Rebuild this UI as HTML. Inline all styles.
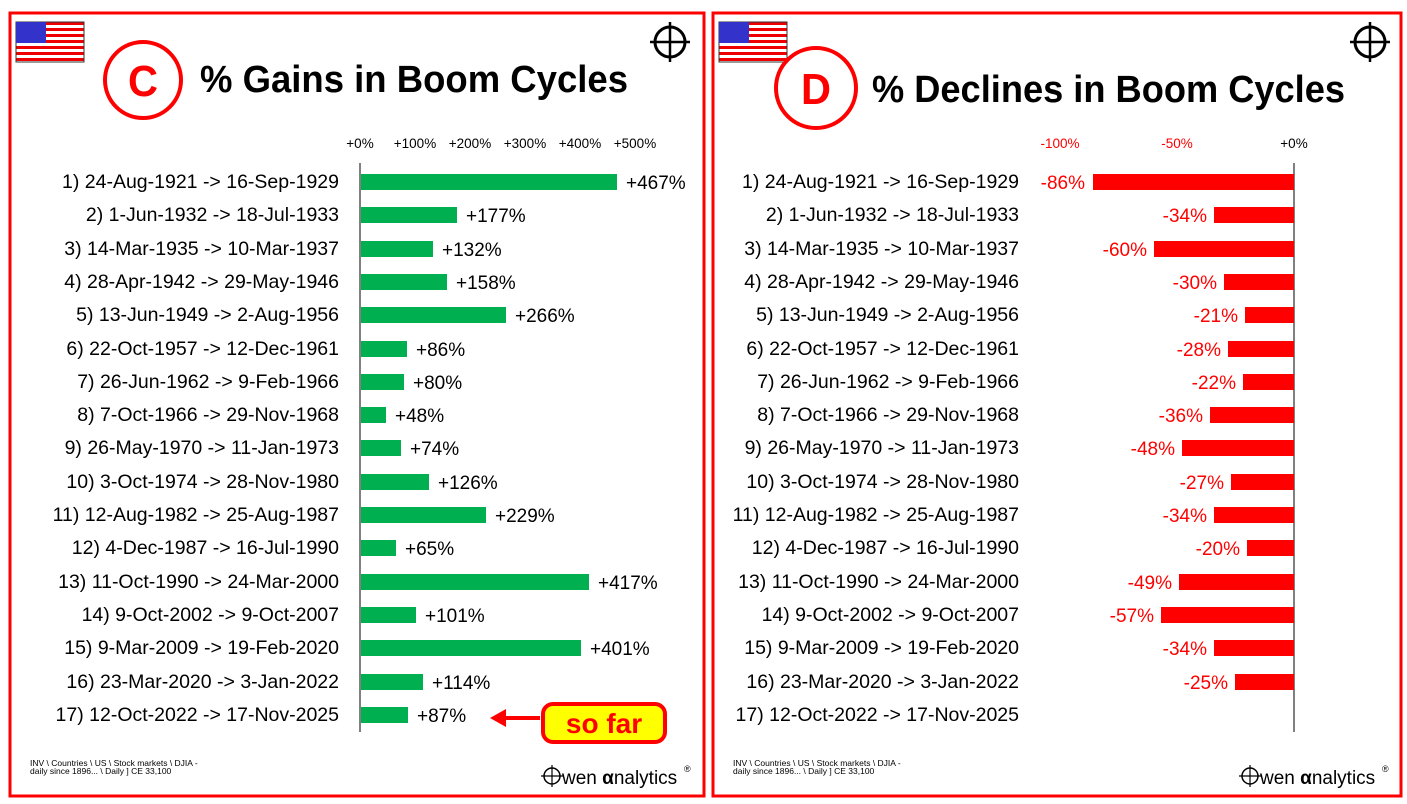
<!DOCTYPE html>
<html><head><meta charset="utf-8"><style>
html,body{margin:0;padding:0;background:#fff;}
svg{display:block;font-family:"Liberation Sans",Arial,sans-serif;}
.l{font-size:19.5px;fill:#000;text-anchor:end;}
.v{font-size:19px;fill:#000;}
.r{font-size:19px;fill:#f00;text-anchor:end;}
.t{font-size:13.5px;fill:#000;text-anchor:middle;}
.tr{font-size:13.5px;fill:#f00;text-anchor:middle;}
</style></head><body>
<svg width="1407" height="804" viewBox="0 0 1407 804">
<defs>
<pattern id="st" width="6" height="6" patternUnits="userSpaceOnUse"><rect width="6" height="3" fill="#e00"/><rect y="3" width="6" height="3" fill="#fff"/></pattern>
<g id="flag"><rect width="68" height="40" fill="url(#st)" stroke="#333" stroke-width="1"/><rect width="30" height="21" fill="#33c"/></g>
<g id="ch"><circle r="15" fill="none" stroke="#000" stroke-width="3"/><line x1="-20" y1="0" x2="20" y2="0" stroke="#000" stroke-width="2.5"/><line x1="0" y1="-20" x2="0" y2="20" stroke="#000" stroke-width="2.5"/></g>
</defs>
<rect x="10" y="13" width="694" height="783" fill="none" stroke="#f00" stroke-width="3"/>
<rect x="713" y="13" width="688" height="783" fill="none" stroke="#f00" stroke-width="3"/>
<use href="#flag" x="16" y="22"/><use href="#flag" x="719" y="22"/>
<use href="#ch" x="670" y="42"/><use href="#ch" x="1370" y="42"/>
<circle cx="143" cy="80" r="38" fill="#fff" stroke="#f00" stroke-width="4"/>
<text x="143" y="96" font-size="44" font-weight="bold" fill="#f00" text-anchor="middle" textLength="30" lengthAdjust="spacingAndGlyphs">C</text>
<text x="200" y="92" font-size="38" font-weight="bold" textLength="428" lengthAdjust="spacingAndGlyphs">% Gains in Boom Cycles</text>
<circle cx="816" cy="88" r="40" fill="#fff" stroke="#f00" stroke-width="4"/>
<text x="816" y="104" font-size="44" font-weight="bold" fill="#f00" text-anchor="middle" textLength="30" lengthAdjust="spacingAndGlyphs">D</text>
<text x="872" y="102" font-size="38" font-weight="bold" textLength="473" lengthAdjust="spacingAndGlyphs">% Declines in Boom Cycles</text>

<g class="t"><text x="360" y="148">+0%</text><text x="415" y="148">+100%</text><text x="470" y="148">+200%</text><text x="525" y="148">+300%</text><text x="580" y="148">+400%</text><text x="635" y="148">+500%</text></g>
<g class="tr"><text x="1060" y="148">-100%</text><text x="1177" y="148">-50%</text><text x="1294" y="148" style="fill:#000">+0%</text></g>

<line x1="360" y1="163" x2="360" y2="732" stroke="#000" stroke-width="1"/>
<line x1="1294" y1="163" x2="1294" y2="732" stroke="#000" stroke-width="1"/>

<g class="l">
<text x="339" y="188">1) 24-Aug-1921 -&gt; 16-Sep-1929</text>
<text x="339" y="221">2) 1-Jun-1932 -&gt; 18-Jul-1933</text>
<text x="339" y="255">3) 14-Mar-1935 -&gt; 10-Mar-1937</text>
<text x="339" y="288">4) 28-Apr-1942 -&gt; 29-May-1946</text>
<text x="339" y="321">5) 13-Jun-1949 -&gt; 2-Aug-1956</text>
<text x="339" y="355">6) 22-Oct-1957 -&gt; 12-Dec-1961</text>
<text x="339" y="388">7) 26-Jun-1962 -&gt; 9-Feb-1966</text>
<text x="339" y="421">8) 7-Oct-1966 -&gt; 29-Nov-1968</text>
<text x="339" y="454">9) 26-May-1970 -&gt; 11-Jan-1973</text>
<text x="339" y="488">10) 3-Oct-1974 -&gt; 28-Nov-1980</text>
<text x="339" y="521">11) 12-Aug-1982 -&gt; 25-Aug-1987</text>
<text x="339" y="554">12) 4-Dec-1987 -&gt; 16-Jul-1990</text>
<text x="339" y="588">13) 11-Oct-1990 -&gt; 24-Mar-2000</text>
<text x="339" y="621">14) 9-Oct-2002 -&gt; 9-Oct-2007</text>
<text x="339" y="654">15) 9-Mar-2009 -&gt; 19-Feb-2020</text>
<text x="339" y="688">16) 23-Mar-2020 -&gt; 3-Jan-2022</text>
<text x="339" y="721">17) 12-Oct-2022 -&gt; 17-Nov-2025</text>
</g>
<g class="l">
<text x="1019" y="188">1) 24-Aug-1921 -&gt; 16-Sep-1929</text>
<text x="1019" y="221">2) 1-Jun-1932 -&gt; 18-Jul-1933</text>
<text x="1019" y="255">3) 14-Mar-1935 -&gt; 10-Mar-1937</text>
<text x="1019" y="288">4) 28-Apr-1942 -&gt; 29-May-1946</text>
<text x="1019" y="321">5) 13-Jun-1949 -&gt; 2-Aug-1956</text>
<text x="1019" y="355">6) 22-Oct-1957 -&gt; 12-Dec-1961</text>
<text x="1019" y="388">7) 26-Jun-1962 -&gt; 9-Feb-1966</text>
<text x="1019" y="421">8) 7-Oct-1966 -&gt; 29-Nov-1968</text>
<text x="1019" y="454">9) 26-May-1970 -&gt; 11-Jan-1973</text>
<text x="1019" y="488">10) 3-Oct-1974 -&gt; 28-Nov-1980</text>
<text x="1019" y="521">11) 12-Aug-1982 -&gt; 25-Aug-1987</text>
<text x="1019" y="554">12) 4-Dec-1987 -&gt; 16-Jul-1990</text>
<text x="1019" y="588">13) 11-Oct-1990 -&gt; 24-Mar-2000</text>
<text x="1019" y="621">14) 9-Oct-2002 -&gt; 9-Oct-2007</text>
<text x="1019" y="654">15) 9-Mar-2009 -&gt; 19-Feb-2020</text>
<text x="1019" y="688">16) 23-Mar-2020 -&gt; 3-Jan-2022</text>
<text x="1019" y="721">17) 12-Oct-2022 -&gt; 17-Nov-2025</text>
</g>

<g fill="#00b050">
<rect x="361" y="174" width="256" height="16"/>
<rect x="361" y="207" width="96" height="16"/>
<rect x="361" y="241" width="72" height="16"/>
<rect x="361" y="274" width="86" height="16"/>
<rect x="361" y="307" width="145" height="16"/>
<rect x="361" y="341" width="46" height="16"/>
<rect x="361" y="374" width="43" height="16"/>
<rect x="361" y="407" width="25" height="16"/>
<rect x="361" y="440" width="40" height="16"/>
<rect x="361" y="474" width="68" height="16"/>
<rect x="361" y="507" width="125" height="16"/>
<rect x="361" y="540" width="35" height="16"/>
<rect x="361" y="574" width="228" height="16"/>
<rect x="361" y="607" width="55" height="16"/>
<rect x="361" y="640" width="220" height="16"/>
<rect x="361" y="674" width="62" height="16"/>
<rect x="361" y="707" width="47" height="16"/>
</g>
<g class="v">
<text x="626" y="189">+467%</text>
<text x="466" y="222">+177%</text>
<text x="442" y="256">+132%</text>
<text x="456" y="289">+158%</text>
<text x="515" y="322">+266%</text>
<text x="416" y="356">+86%</text>
<text x="413" y="389">+80%</text>
<text x="395" y="422">+48%</text>
<text x="410" y="455">+74%</text>
<text x="438" y="489">+126%</text>
<text x="495" y="522">+229%</text>
<text x="405" y="555">+65%</text>
<text x="598" y="589">+417%</text>
<text x="425" y="622">+101%</text>
<text x="590" y="655">+401%</text>
<text x="432" y="689">+114%</text>
<text x="417" y="722">+87%</text>
</g>

<g fill="#f00">
<rect x="1093" y="174" width="201" height="16"/>
<rect x="1214" y="207" width="80" height="16"/>
<rect x="1154" y="241" width="140" height="16"/>
<rect x="1224" y="274" width="70" height="16"/>
<rect x="1245" y="307" width="49" height="16"/>
<rect x="1228" y="341" width="66" height="16"/>
<rect x="1243" y="374" width="51" height="16"/>
<rect x="1210" y="407" width="84" height="16"/>
<rect x="1182" y="440" width="112" height="16"/>
<rect x="1231" y="474" width="63" height="16"/>
<rect x="1214" y="507" width="80" height="16"/>
<rect x="1247" y="540" width="47" height="16"/>
<rect x="1179" y="574" width="115" height="16"/>
<rect x="1161" y="607" width="133" height="16"/>
<rect x="1214" y="640" width="80" height="16"/>
<rect x="1235" y="674" width="59" height="16"/>
</g>
<g class="r">
<text x="1085" y="189">-86%</text>
<text x="1207" y="222">-34%</text>
<text x="1147" y="256">-60%</text>
<text x="1217" y="289">-30%</text>
<text x="1238" y="322">-21%</text>
<text x="1221" y="356">-28%</text>
<text x="1236" y="389">-22%</text>
<text x="1203" y="422">-36%</text>
<text x="1175" y="455">-48%</text>
<text x="1224" y="489">-27%</text>
<text x="1207" y="522">-34%</text>
<text x="1240" y="555">-20%</text>
<text x="1172" y="589">-49%</text>
<text x="1154" y="622">-57%</text>
<text x="1207" y="655">-34%</text>
<text x="1228" y="689">-25%</text>
</g>

<line x1="540" y1="718" x2="500" y2="718" stroke="#f00" stroke-width="4"/>
<polygon points="490,718 506,709 506,727" fill="#f00"/>
<rect x="543" y="704" width="122" height="38" rx="10" fill="#ff0" stroke="#f00" stroke-width="4"/>
<text x="604" y="733" font-size="28" font-weight="bold" fill="#f00" text-anchor="middle">so far</text>

<g font-size="8.5" fill="#000">
<text x="30" y="766">INV \ Countries \ US \ Stock markets \ DJIA -</text>
<text x="30" y="774">daily since 1896... \  Daily ] CE 33,100</text>
<text x="733" y="766">INV \ Countries \ US \ Stock markets \ DJIA -</text>
<text x="733" y="774">daily since 1896... \  Daily ] CE 33,100</text>
</g>
<g>
<circle cx="552" cy="776" r="8" fill="none" stroke="#000" stroke-width="1.5"/><line x1="552" y1="765" x2="552" y2="787" stroke="#000" stroke-width="1.2"/><line x1="541" y1="776" x2="563" y2="776" stroke="#000" stroke-width="1.2"/>
<text x="562" y="784" font-size="19">wen <tspan font-weight="bold">α</tspan>nalytics</text><text x="684" y="772" font-size="9">®</text>
<circle cx="1250" cy="776" r="8" fill="none" stroke="#000" stroke-width="1.5"/><line x1="1250" y1="765" x2="1250" y2="787" stroke="#000" stroke-width="1.2"/><line x1="1239" y1="776" x2="1261" y2="776" stroke="#000" stroke-width="1.2"/>
<text x="1260" y="784" font-size="19">wen <tspan font-weight="bold">α</tspan>nalytics</text><text x="1382" y="772" font-size="9">®</text>
</g>
</svg>
</body></html>
